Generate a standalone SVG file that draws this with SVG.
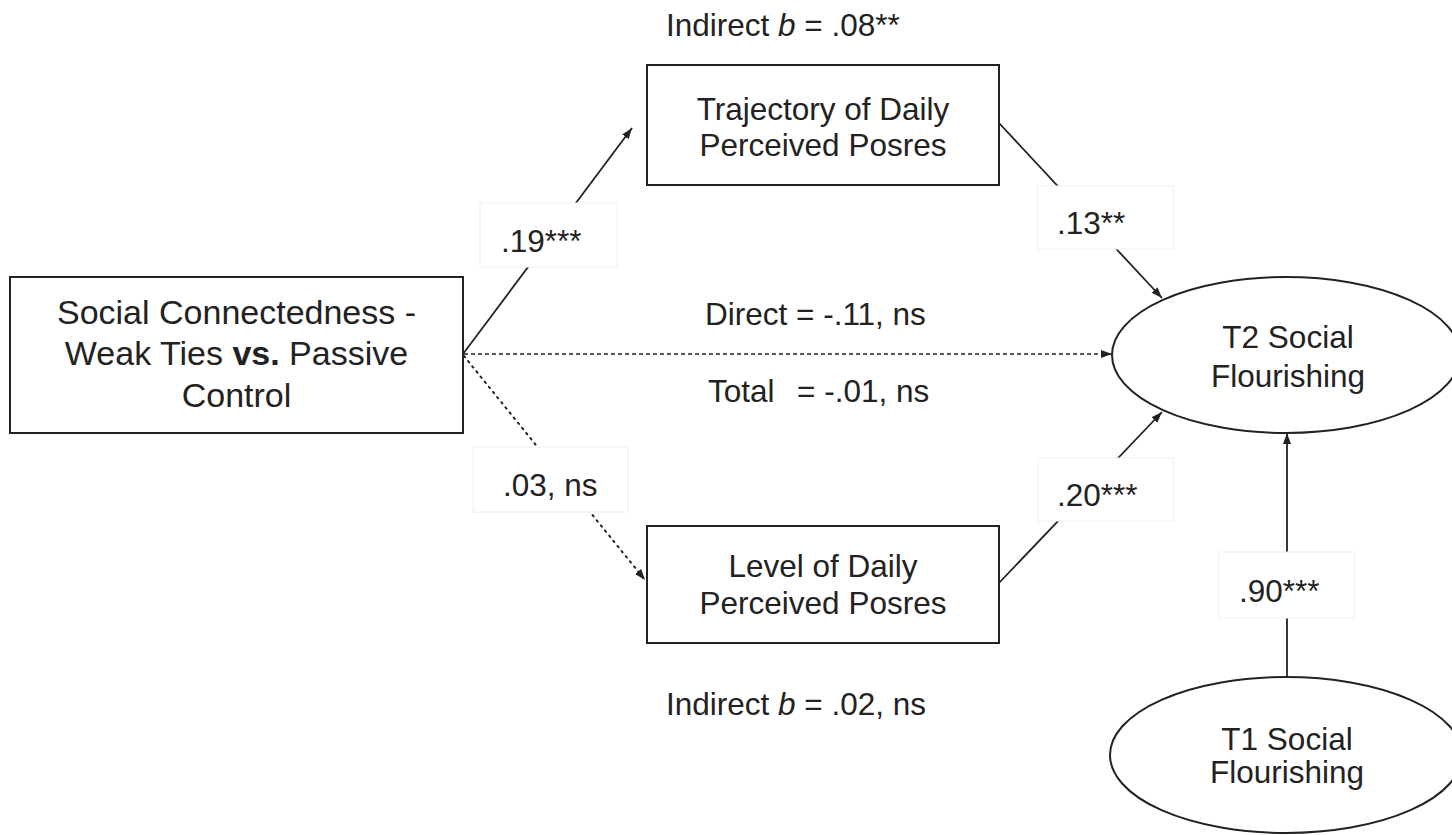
<svg xmlns="http://www.w3.org/2000/svg" width="1452" height="835" viewBox="0 0 1452 835">
  <style>
    .box { fill: #ffffff; stroke: #222222; stroke-width: 2; }
    .oval { fill: #ffffff; stroke: #222222; stroke-width: 2; }
    .lbl { fill: #ffffff; stroke: #f0f0f0; stroke-width: 1; }
    .t { font-family: "Liberation Sans", Arial, sans-serif; font-size: 31.5px; fill: #222222; }
    .big { font-size: 34px; }
    .mid { text-anchor: middle; }
    .edge { fill: none; stroke: #222222; stroke-width: 1.8; }
    .dash { stroke-dasharray: 4 3; stroke-width: 1.4; }
    .dot { stroke-dasharray: 1.6 5; stroke-linecap: round; stroke-width: 2; }
  </style>
  <defs>
    <marker id="arrow" markerUnits="userSpaceOnUse" markerWidth="12" markerHeight="10" refX="11" refY="4" orient="auto">
      <path d="M0,0 L11,4 L0,8 z" fill="#222222"/>
    </marker>
  </defs>
  <rect width="1452" height="835" fill="#ffffff"/>

  <!-- connectors -->
  <g id="connectors">
    <line class="edge" x1="463" y1="354" x2="632" y2="128" marker-end="url(#arrow)"/>
    <line class="edge dot" x1="464" y1="356" x2="645" y2="580" marker-end="url(#arrow)"/>
    <line class="edge dash" x1="464" y1="354" x2="1112" y2="354" marker-end="url(#arrow)"/>
    <line class="edge" x1="999" y1="123" x2="1162" y2="298" marker-end="url(#arrow)"/>
    <line class="edge" x1="999" y1="583" x2="1162" y2="412" marker-end="url(#arrow)"/>
    <line class="edge" x1="1287" y1="677" x2="1287" y2="433" marker-end="url(#arrow)"/>
  </g>

  <!-- path coefficient labels -->
  <g id="label-a1">
    <rect class="lbl" x="480" y="203" width="137" height="64"/>
    <text class="t" x="501" y="252">.19***</text>
  </g>
  <g id="label-a2">
    <rect class="lbl" x="473" y="447" width="155" height="65"/>
    <text class="t" x="503" y="496">.03, ns</text>
  </g>
  <g id="label-b1">
    <rect class="lbl" x="1037" y="186" width="136" height="63"/>
    <text class="t" x="1057" y="234">.13**</text>
  </g>
  <g id="label-b2">
    <rect class="lbl" x="1038" y="458" width="135" height="63"/>
    <text class="t" x="1057" y="506">.20***</text>
  </g>
  <g id="label-auto">
    <rect class="lbl" x="1219" y="552" width="136" height="66"/>
    <text class="t" x="1239" y="602">.90***</text>
  </g>

  <!-- effect annotations -->
  <g id="indirect-top">
    <text class="t" x="666" y="36">Indirect <tspan font-style="italic">b</tspan> = .08**</text>
  </g>
  <g id="direct-total">
    <text class="t" x="705" y="325">Direct = -.11, ns</text>
    <text class="t" x="708" y="402">Total<tspan x="797">= -.01, ns</tspan></text>
  </g>
  <g id="indirect-bottom">
    <text class="t" x="666" y="715">Indirect <tspan font-style="italic">b</tspan> = .02, ns</text>
  </g>

  <!-- nodes -->
  <g id="predictor">
    <rect class="box" x="10" y="277" width="453" height="156"/>
    <text class="t big mid" x="236.5" y="324">Social Connectedness -</text>
    <text class="t big mid" x="236.5" y="365">Weak Ties <tspan font-weight="bold">vs.</tspan> Passive</text>
    <text class="t big mid" x="236.5" y="407">Control</text>
  </g>
  <g id="mediator-trajectory">
    <rect class="box" x="647" y="65" width="352" height="120"/>
    <text class="t mid" x="823" y="120">Trajectory of Daily</text>
    <text class="t mid" x="823" y="156">Perceived Posres</text>
  </g>
  <g id="mediator-level">
    <rect class="box" x="647" y="526" width="352" height="117"/>
    <text class="t mid" x="823" y="577">Level of Daily</text>
    <text class="t mid" x="823" y="614">Perceived Posres</text>
  </g>
  <g id="outcome-t2">
    <ellipse class="oval" cx="1286" cy="355" rx="174" ry="78"/>
    <text class="t mid" x="1288" y="348">T2 Social</text>
    <text class="t mid" x="1288" y="387">Flourishing</text>
  </g>
  <g id="baseline-t1">
    <ellipse class="oval" cx="1286" cy="755" rx="176" ry="78"/>
    <text class="t mid" x="1287" y="750">T1 Social</text>
    <text class="t mid" x="1287" y="783">Flourishing</text>
  </g>
</svg>
